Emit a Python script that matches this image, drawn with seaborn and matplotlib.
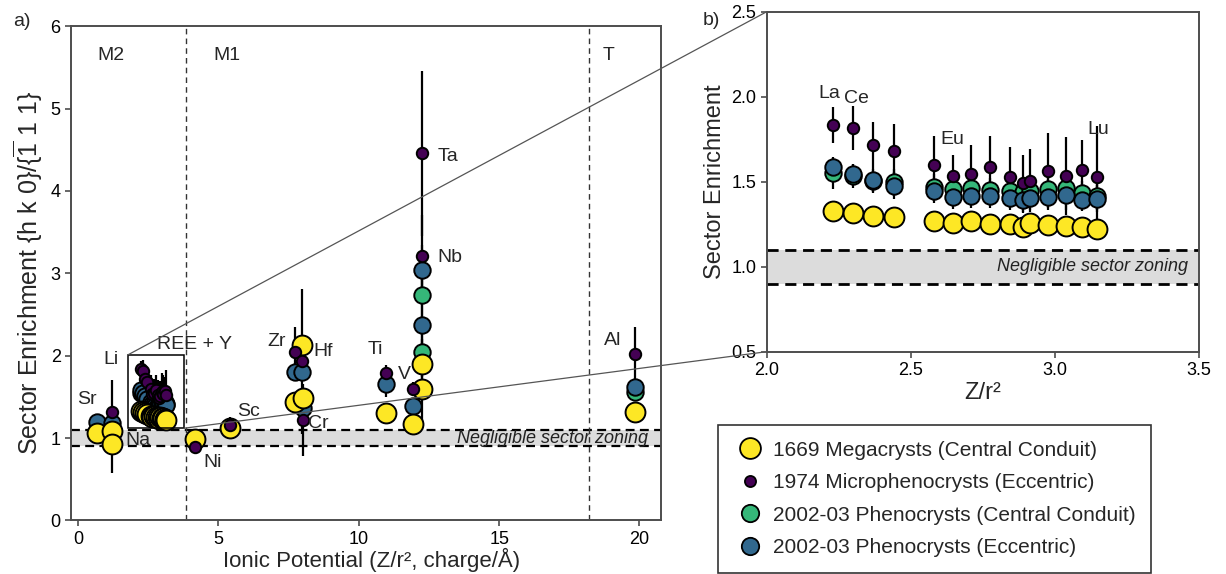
import numpy as np
import pandas as pd
import matplotlib
matplotlib.use("Agg")
import matplotlib.pyplot as plt
from matplotlib.patches import Rectangle, ConnectionPatch
from matplotlib.lines import Line2D
import seaborn as sns

# ---------------- data ----------------
series_names = ["1669 Megacrysts (Central Conduit)",
                "1974 Microphenocrysts (Eccentric)",
                "2002-03 Phenocrysts (Central Conduit)",
                "2002-03 Phenocrysts (Eccentric)"]
series_colors = ["#FDE725", "#440154", "#35B779", "#31688E"]

# non-REE elements (panel a)
elem_labels = ["Na", "Li", "Sr", "Ni", "Sc", "Zr", "Hf", "Cr", "Ti", "V", "Nb", "Ta", "Al"]
elem_x = [0.67, 1.20, 1.22, 4.17, 5.42, 7.73, 7.97, 8.02, 10.96, 11.93, 12.26, 12.26, 19.83]
nan = np.nan
elem_1669 = [1.06, 1.08, 0.93, 0.984, 1.118, 1.44, 2.128, 1.48, 1.30, 1.17, 1.90, 1.60, 1.31]
elem_1669_err = [0.04, 0.05, 0.35, 0.03, 0.03, 0.05, 0.05, 0.05, 0.04, 0.05, 0.30, 0.50, 0.04]
elem_1974 = [nan, 1.32, nan, 0.895, 1.158, 2.05, 1.93, 1.218, 1.785, 1.60, 3.21, 4.455, 2.015]
elem_1974_err = [nan, 0.38, nan, 0.03, 0.10, 0.30, 0.88, 0.44, 0.10, 0.08, 0.50, 1.00, 0.33]
elem_2002cc = [nan, nan, nan, nan, nan, nan, nan, nan, nan, nan, 2.74, 2.04, 1.56]
elem_2002cc_err = [nan, nan, nan, nan, nan, nan, nan, nan, nan, nan, 0.40, 0.30, 0.05]
elem_2002ecc = [1.20, 1.18, nan, nan, nan, 1.805, 1.805, 1.36, 1.65, 1.39, 3.04, 2.37, 1.62]
elem_2002ecc_err = [0.05, 0.05, nan, nan, nan, 0.06, 0.06, 0.05, 0.15, 0.06, 0.30, 0.40, 0.05]

# REE + Y (both panels)
ree_labels = ["La", "Ce", "Pr", "Nd", "Sm", "Eu", "Gd", "Tb", "Dy", "Y", "Ho", "Er", "Tm", "Yb", "Lu"]
ree_x = [2.23, 2.30, 2.37, 2.44, 2.58, 2.645, 2.71, 2.775, 2.845, 2.89, 2.915, 2.975, 3.04, 3.095, 3.145]
ree_1669 = [1.326, 1.316, 1.299, 1.291, 1.271, 1.256, 1.266, 1.252, 1.252, 1.232, 1.256, 1.248, 1.240, 1.236, 1.223]
ree_1669_err = [0.03] * 15
ree_1974 = [1.834, 1.818, 1.717, 1.682, 1.598, 1.535, 1.545, 1.588, 1.525, 1.490, 1.506, 1.564, 1.535, 1.570, 1.525]
ree_1974_err = [0.105, 0.13, 0.135, 0.156, 0.168, 0.123, 0.172, 0.182, 0.18, 0.17, 0.185, 0.22, 0.23, 0.175, 0.30]
ree_2002cc = [1.549, 1.535, 1.505, 1.496, 1.467, 1.457, 1.461, 1.451, 1.443, 1.440, 1.447, 1.457, 1.461, 1.432, 1.415]
ree_2002cc_err = [0.09, 0.07, 0.07, 0.08, 0.08, 0.07, 0.07, 0.07, 0.07, 0.08, 0.07, 0.08, 0.09, 0.07, 0.08]
ree_2002ecc = [1.584, 1.543, 1.512, 1.477, 1.443, 1.408, 1.418, 1.418, 1.404, 1.393, 1.404, 1.412, 1.422, 1.395, 1.400]
ree_2002ecc_err = [0.06, 0.06, 0.07, 0.08, 0.07, 0.07, 0.07, 0.07, 0.07, 0.08, 0.07, 0.08, 0.09, 0.07, 0.08]

# ---------------- tidy table ----------------
rows = []
elem_vals = [(elem_1669, elem_1669_err), (elem_1974, elem_1974_err),
             (elem_2002cc, elem_2002cc_err), (elem_2002ecc, elem_2002ecc_err)]
ree_vals = [(ree_1669, ree_1669_err), (ree_1974, ree_1974_err),
            (ree_2002cc, ree_2002cc_err), (ree_2002ecc, ree_2002ecc_err)]
for s, (vals, errs) in zip(series_names, elem_vals):
    for lab, x, v, e in zip(elem_labels, elem_x, vals, errs):
        rows.append(dict(element=lab, x=x, y=v, err=e, series=s, group="elem"))
for s, (vals, errs) in zip(series_names, ree_vals):
    for lab, x, v, e in zip(ree_labels, ree_x, vals, errs):
        rows.append(dict(element=lab, x=x, y=v, err=e, series=s, group="ree"))
df = pd.DataFrame(rows).dropna(subset=["y"])

# ---------------- style ----------------
sns.set_style("ticks")
plt.rcParams["font.family"] = ["Liberation Sans", "DejaVu Sans"]
plt.rcParams["mathtext.fontset"] = "custom"
plt.rcParams["mathtext.rm"] = "Liberation Sans"
plt.rcParams["mathtext.it"] = "Liberation Sans:italic"

spine_col = "#4d4d4d"
sizes = {series_names[0]: 205, series_names[1]: 68,
         series_names[2]: 140, series_names[3]: 140}
draw_order = [series_names[2], series_names[3], series_names[0], series_names[1]]
zorders = {series_names[2]: 3, series_names[3]: 4, series_names[0]: 5, series_names[1]: 6}
palette = dict(zip(series_names, series_colors))

fig = plt.figure(figsize=(12.26, 5.74), dpi=100)
ax_a = fig.add_axes([0.058, 0.0934, 0.481, 0.861])
ax_b = fig.add_axes([0.6254, 0.3873, 0.3526, 0.5923])


def draw_points(ax, data):
    for s in draw_order:
        d = data[data["series"] == s]
        ax.errorbar(d["x"], d["y"], yerr=d["err"], fmt="none", ecolor="black",
                    elinewidth=1.6, capsize=0, zorder=2)
    for s in draw_order:
        d = data[data["series"] == s]
        sns.scatterplot(data=d, x="x", y="y", ax=ax, color=palette[s], s=sizes[s],
                        edgecolor="black", linewidth=1.4, zorder=zorders[s], legend=False)


def style_axes(ax):
    for sp in ax.spines.values():
        sp.set_visible(True)
        sp.set_color(spine_col)
        sp.set_linewidth(1.4)
    ax.tick_params(direction="out", length=4, width=1.2, color=spine_col,
                   labelsize=13, labelcolor="black")


# ---------------- panel a ----------------
ax_a.axhspan(0.9, 1.1, color="#dcdcdc", zorder=0, lw=0)
for yy in (0.9, 1.1):
    ax_a.axhline(yy, color="black", lw=1.6, ls=(0, (4, 2.4)), zorder=1)
for xx in (3.83, 18.2):
    ax_a.axvline(xx, color="#333333", lw=1.0, ls=(0, (4, 3)), zorder=1)
draw_points(ax_a, df)
ax_a.add_patch(Rectangle((1.76, 1.118), 2.0, 0.889, fill=False, ec="black", lw=1.1, zorder=7))
ax_a.set_xlim(-0.25, 20.76)
ax_a.set_ylim(0, 6)
ax_a.set_xticks([0, 5, 10, 15, 20])
ax_a.set_yticks([0, 1, 2, 3, 4, 5, 6])
ax_a.set_xlabel("Ionic Potential (Z/r², charge/Å)", fontsize=16)
ax_a.xaxis.set_label_coords(0.51, -0.056)
ax_a.set_ylabel(r"Sector Enrichment {h k 0}/{$\mathregular{\overline{1}}$ 1 1}", fontsize=18, labelpad=4)
style_axes(ax_a)

ax_a.text(20.3, 1.0, "Negligible sector zoning", fontsize=13, style="italic",
          ha="right", va="center", color="#222222", zorder=8)
labels_a = [("Sr", -0.02, 1.47), ("Li", 0.9, 1.95), ("Na", 1.69, 0.975), ("REE + Y", 2.82, 2.13),
            ("Ni", 4.46, 0.70), ("Sc", 5.67, 1.32), ("Zr", 6.74, 2.17), ("Hf", 8.37, 2.05),
            ("Cr", 8.2, 1.18), ("Ti", 10.3, 2.07), ("V", 11.4, 1.77), ("Ta", 12.8, 4.42),
            ("Nb", 12.8, 3.19), ("Al", 18.73, 2.19),
            ("M2", 0.69, 5.65), ("M1", 4.82, 5.65), ("T", 18.7, 5.65)]
for t, x, y in labels_a:
    ax_a.text(x, y, t, fontsize=14, ha="left", va="center", zorder=9)

# ---------------- panel b ----------------
ax_b.axhspan(0.9, 1.1, color="#dcdcdc", zorder=0, lw=0)
for yy in (0.9, 1.1):
    ax_b.axhline(yy, color="black", lw=2.0, ls=(0, (4, 2.4)), zorder=1)
draw_points(ax_b, df[df["group"] == "ree"])
ax_b.set_xlim(2.0, 3.5)
ax_b.set_ylim(0.5, 2.5)
ax_b.set_xticks([2.0, 2.5, 3.0, 3.5])
ax_b.set_xticklabels(["2.0", "2.5", "3.0", "3.5"])
ax_b.set_yticks([0.5, 1.0, 1.5, 2.0, 2.5])
ax_b.set_yticklabels(["0.5", "1.0", "1.5", "2.0", "2.5"])
ax_b.set_xlabel("Z/r²", fontsize=17)
ax_b.xaxis.set_label_coords(0.5, -0.09)
ax_b.set_ylabel("Sector Enrichment", fontsize=17, labelpad=4)
style_axes(ax_b)
ax_b.text(3.46, 1.0, "Negligible sector zoning", fontsize=13, style="italic",
          ha="right", va="center", color="#222222", zorder=8)
for t, x, y in [("La", 2.18, 2.02), ("Ce", 2.268, 1.99), ("Eu", 2.602, 1.75), ("Lu", 3.113, 1.81)]:
    ax_b.text(x, y, t, fontsize=14, ha="left", va="center", zorder=9)

# connector lines
for pa, pb in [((1.76, 2.007), (2.0, 2.5)), ((3.76, 1.118), (2.0, 0.5))]:
    con = ConnectionPatch(xyA=pa, coordsA=ax_a.transData, xyB=pb, coordsB=ax_b.transData,
                          color="#555555", lw=0.9, zorder=10)
    fig.add_artist(con)

fig.text(0.011, 0.962, "a)", fontsize=14, ha="left", va="center")
fig.text(0.573, 0.965, "b)", fontsize=14, ha="left", va="center")

# ---------------- legend ----------------
msz = {series_names[0]: 15, series_names[1]: 8, series_names[2]: 12.5, series_names[3]: 12.5}
handles = [Line2D([], [], ls="none", marker="o", markersize=msz[s], markerfacecolor=palette[s],
                  markeredgecolor="black", markeredgewidth=1.3) for s in series_names]
leg = fig.legend(handles, series_names, loc="lower left", bbox_to_anchor=(0.5856, 0.002),
                 fontsize=15, frameon=True, fancybox=False, edgecolor="black",
                 handletextpad=0.3, labelspacing=0.65, borderpad=0.75, handlelength=1.6,
                 borderaxespad=0)
leg.get_frame().set_linewidth(1.2)

fig.savefig("out.png", dpi=100)
